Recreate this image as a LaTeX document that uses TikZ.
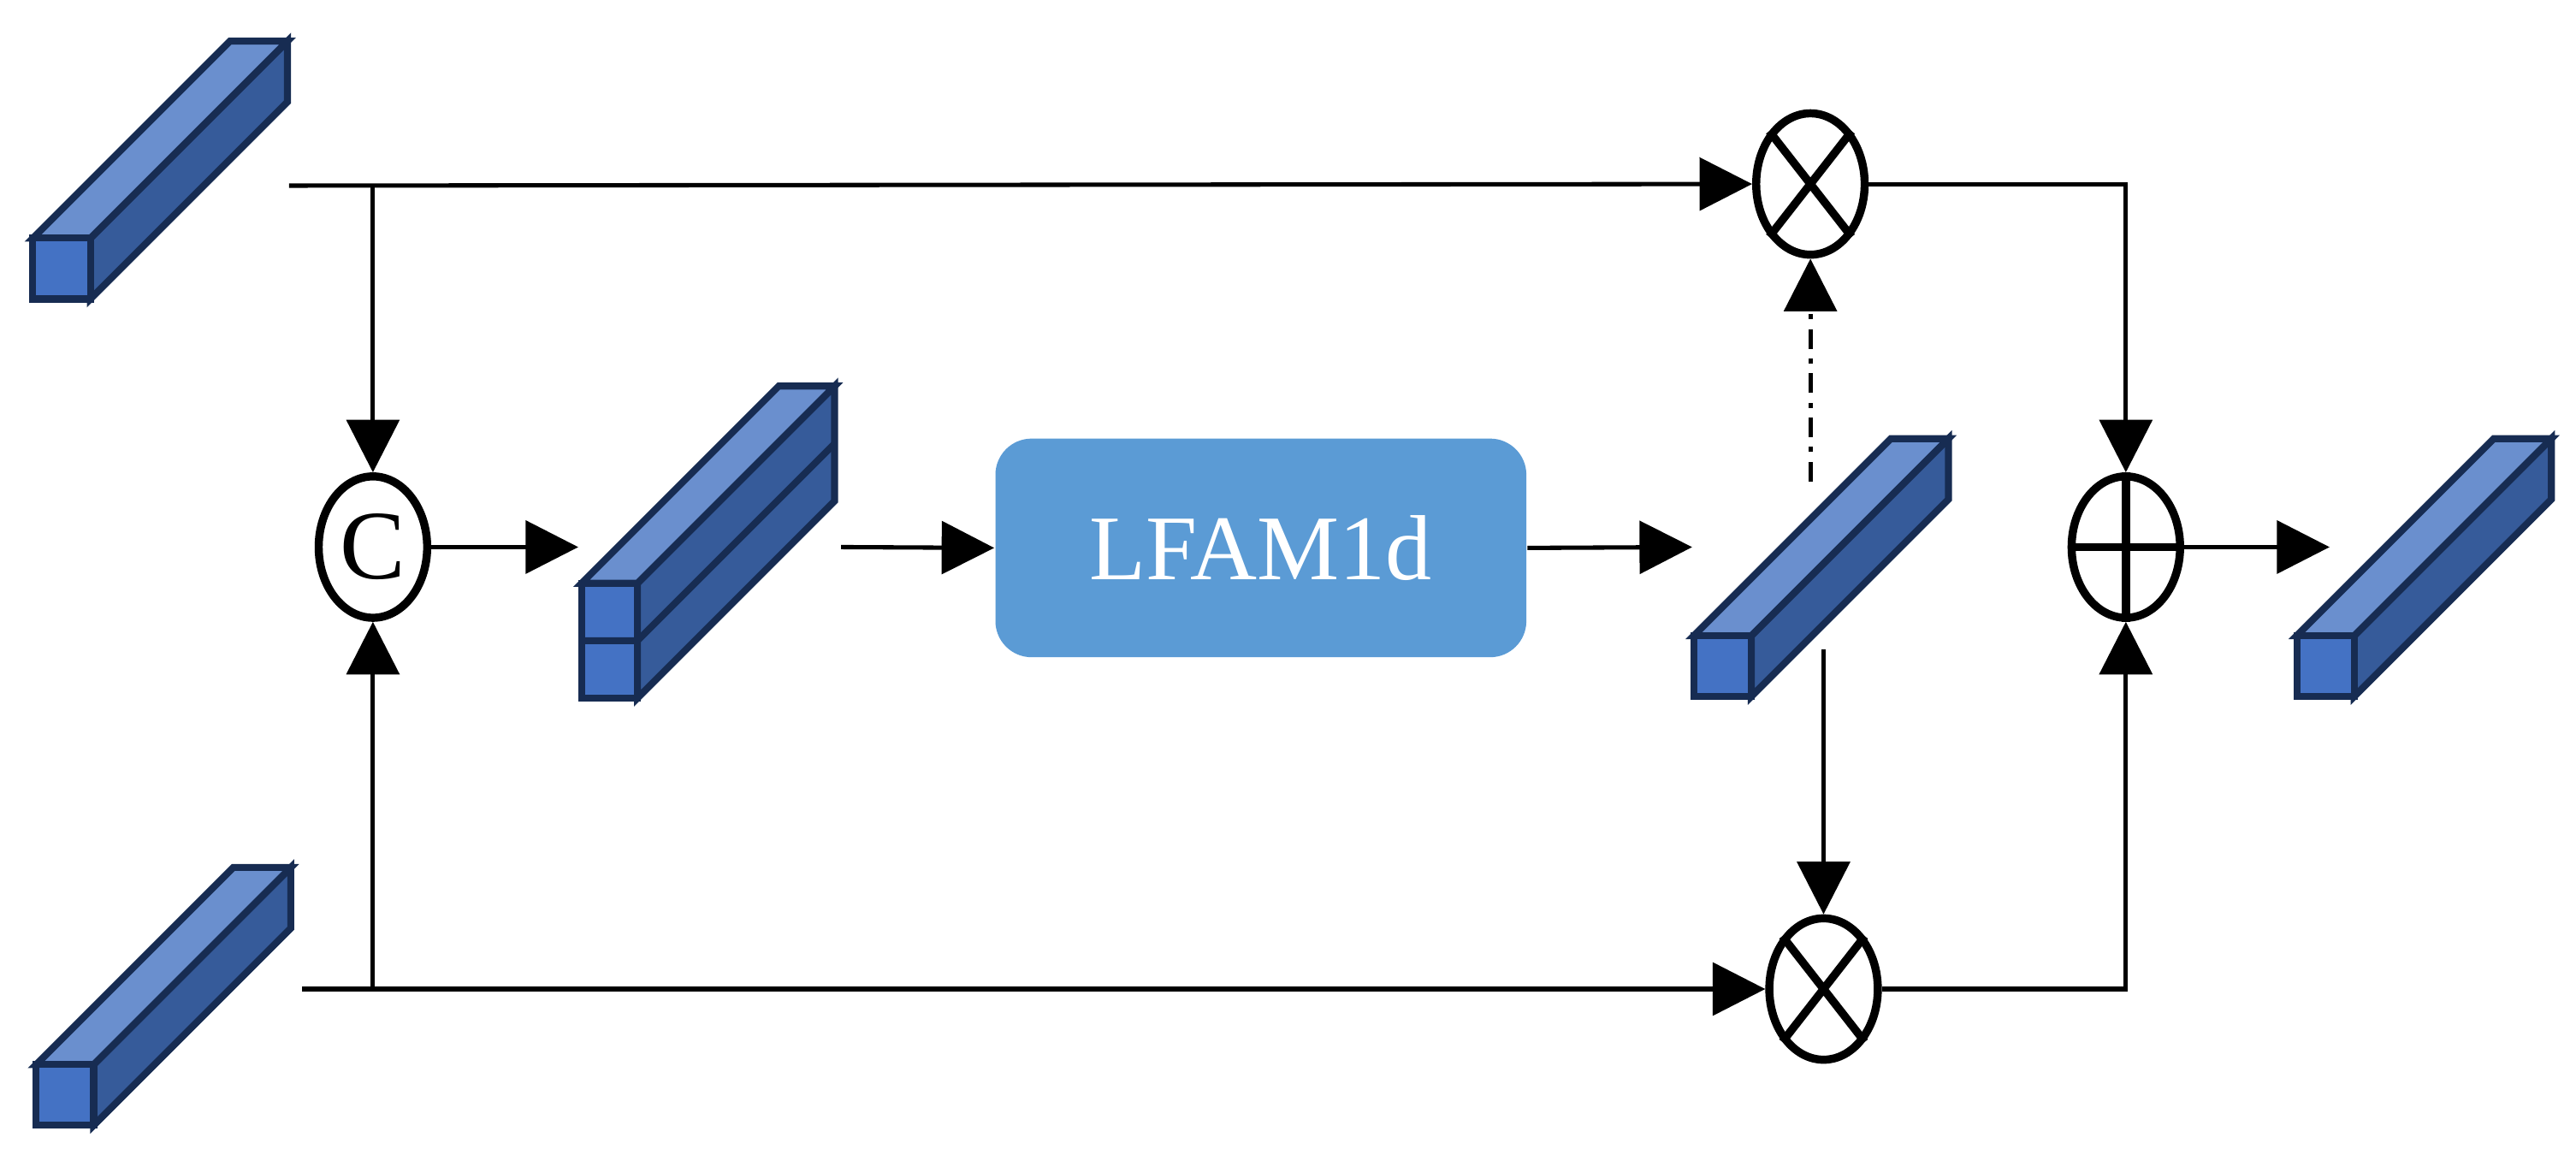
\documentclass[tikz,border=0pt]{standalone}
\usepackage{fontspec}
\setmainfont{Liberation Serif}
\usetikzlibrary{shapes.geometric,arrows.meta}
\definecolor{fr}{HTML}{4472C4}
\definecolor{tp}{HTML}{6A8FCE}
\definecolor{rs}{HTML}{365B9A}
\definecolor{ol}{HTML}{172C52}
\definecolor{boxc}{HTML}{5B9BD5}
\newcommand\cub[6]{% x0 y0 w h d splits
  \draw[ol,line width=1.2pt,line join=miter,fill=rs] ({#1+#3},#2)--({#1+#3+#5},{#2-#5})--({#1+#3+#5},{#2+#4-#5})--({#1+#3},{#2+#4})--cycle;
  \draw[ol,line width=1.2pt,line join=miter,fill=tp] (#1,#2)--({#1+#5},{#2-#5})--({#1+#3+#5},{#2-#5})--({#1+#3},#2)--cycle;
  \draw[ol,line width=1.2pt,fill=fr] (#1,#2) rectangle ({#1+#3},{#2+#4});
  \ifnum#6=2
    \draw[ol,line width=1.2pt] (#1,{#2+#4/2})--({#1+#3},{#2+#4/2})--({#1+#3+#5},{#2+#4/2-#5});
  \fi
}
\begin{document}
\begin{tikzpicture}[x=0.01cm,y=-0.01cm,
  op/.style={ellipse,draw,line width=1.4pt,minimum width=0.66cm,minimum height=0.86cm,inner sep=0pt},
  ln/.style={line width=0.75pt},
  ar/.style={ln,-{Triangle[length=0.32cm,width=0.32cm]}}]
\useasboundingbox (0,0) rectangle (1568,703);
\cub{20}{145}{35}{37}{120}{1}
\cub{22}{648}{35}{37}{120}{1}
\cub{354}{355}{34}{70}{120}{2}
\cub{1031}{387}{35}{37}{120}{1}
\cub{1398}{387}{35}{37}{120}{1}
\node[op,font=\fontsize{17}{20}\selectfont] (c) at (227,333) {C};
\node[op] (m1) at (1102,112) {};
\node[op] (m2) at (1110,602) {};
\node[op] (p) at (1294,333) {};
\draw[line width=1.4pt] (m1.north west)--(m1.south east) (m1.north east)--(m1.south west);
\draw[line width=1.4pt] (m2.north west)--(m2.south east) (m2.north east)--(m2.south west);
\draw[line width=1.4pt] (p.north)--(p.south) (p.east)--(p.west);
\node[fill=boxc,rounded corners=0.22cm,minimum width=3.23cm,minimum height=1.33cm,text=white,font=\fontsize{16}{19}\selectfont] (box) at (767.5,333.5) {LFAM1d};
\coordinate (a0) at (176,113);
\coordinate (aj) at (227,113);
\coordinate (b0) at (184,602);
\coordinate (bj) at (227,602);
\coordinate (c3) at (352,333);
\coordinate (s3) at (512,333);
\coordinate (e4) at (1030,333);
\coordinate (d4) at (1102,293);
\coordinate (v4) at (1110,395);
\coordinate (o5) at (1418,333);
\draw[ar] (a0)--(m1.west);
\draw[ar] (aj)--(c.north);
\draw[ar] (b0)--(m2.west);
\draw[ar] (bj)--(c.south);
\draw[ar] (c.east)--(c3);
\draw[ar] (s3)--(box.west);
\draw[ar] (box.east)--(e4);
\draw[ar,dash pattern=on 3.4pt off 1.7pt on 0.85pt off 1.7pt] (d4)--(m1.south);
\draw[ar] (v4)--(m2.north);
\draw[ar] (m1.east)-|(p.north);
\draw[ar] (m2.east)-|(p.south);
\draw[ar] (p.east)--(o5);
\end{tikzpicture}
\end{document}
